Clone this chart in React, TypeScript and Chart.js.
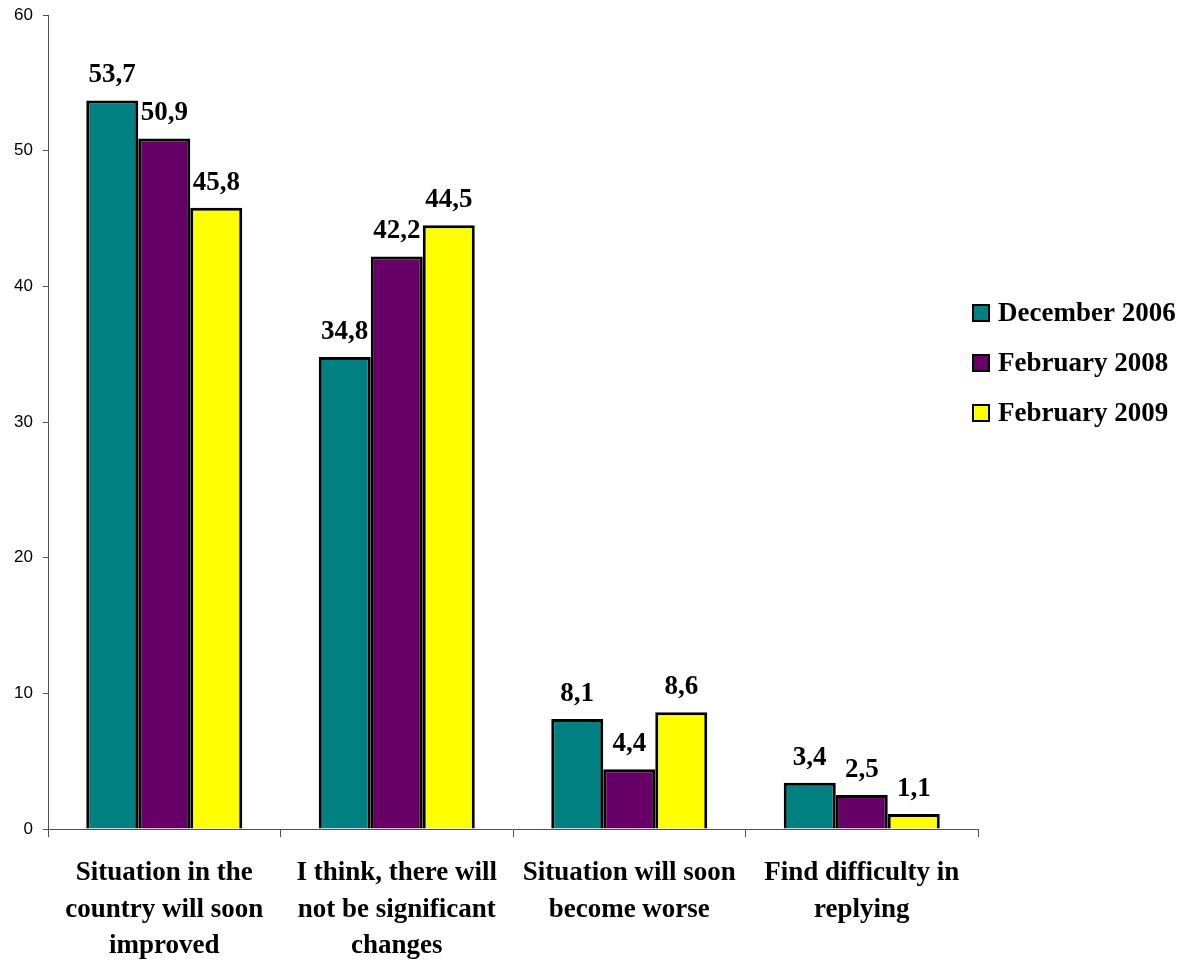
import React, { useEffect, useRef } from "react";
import { Chart, registerables } from "chart.js";

Chart.register(...registerables);

const categories: string[][] = [
  ["Situation in the", "country will soon", "improved"],
  ["I think, there will", "not be significant", "changes"],
  ["Situation will soon", "become worse"],
  ["Find difficulty in", "replying"],
];
const seriesNames = ["December 2006", "February 2008", "February 2009"];
const dec2006 = [53.7, 34.8, 8.1, 3.4];
const feb2008 = [50.9, 42.2, 4.4, 2.5];
const feb2009 = [45.8, 44.5, 8.6, 1.1];
const colors = ["#008080", "#660066", "#FFFF00"];
const yTicks = [0, 10, 20, 30, 40, 50, 60];

const SERIF = "'Liberation Serif', 'Times New Roman', serif";
const SANS = "'Liberation Sans', Arial, sans-serif";
const AXIS = "#505050";

const valueLabels = {
  id: "valueLabels",
  afterDatasetsDraw(chart: any) {
    const ctx = chart.ctx;
    ctx.save();
    ctx.font = `bold 27px ${SERIF}`;
    ctx.fillStyle = "#000";
    ctx.textAlign = "center";
    ctx.textBaseline = "alphabetic";
    chart.data.datasets.forEach((ds: any, i: number) => {
      const meta = chart.getDatasetMeta(i);
      meta.data.forEach((el: any, j: number) => {
        const v = ds.data[j] as number;
        ctx.fillText(v.toFixed(1).replace(".", ","), el.x, el.y - 18);
      });
    });
    ctx.restore();
  },
};

const sideLegend = {
  id: "sideLegend",
  afterDraw(chart: any) {
    const ctx = chart.ctx;
    const x0 = chart.chartArea.right - 5;
    const yc = [313, 363, 413];
    ctx.save();
    ctx.font = `bold 27px ${SERIF}`;
    ctx.textBaseline = "middle";
    ctx.textAlign = "left";
    chart.data.datasets.forEach((ds: any, i: number) => {
      const y = yc[i];
      ctx.fillStyle = ds.backgroundColor;
      ctx.fillRect(x0, y - 8, 16, 16);
      ctx.lineWidth = 2;
      ctx.strokeStyle = "#000";
      ctx.strokeRect(x0, y - 8, 16, 16);
      ctx.fillStyle = "#000";
      ctx.fillText(ds.label, x0 + 25, y + 1);
    });
    ctx.restore();
  },
};

export default function App() {
  const ref = useRef<HTMLCanvasElement>(null);
  useEffect(() => {
    document.body.style.margin = "0";
    const series = [dec2006, feb2008, feb2009];
    const chart = new Chart(ref.current!, {
      type: "bar",
      data: {
        labels: categories,
        datasets: series.map((d, i) => ({
          label: seriesNames[i],
          data: d,
          backgroundColor: colors[i],
          borderColor: "#000",
          borderWidth: 3,
          barPercentage: 1,
          categoryPercentage: 0.671,
        })),
      },
      options: {
        animation: false,
        responsive: true,
        maintainAspectRatio: false,
        layout: { padding: { top: 15, right: 215, left: 0, bottom: 0 } },
        plugins: {
          legend: { display: false },
          tooltip: { enabled: false },
        },
        scales: {
          x: {
            grid: {
              offset: true,
              drawOnChartArea: false,
              tickLength: 8,
              color: AXIS,
              tickColor: AXIS,
            },
            border: { color: AXIS, width: 1 },
            ticks: {
              color: "#000",
              padding: 18,
              maxRotation: 0,
              autoSkip: false,
              font: { family: SERIF, size: 27, weight: "bold", lineHeight: 1.35 },
            },
            afterFit: (s: any) => {
              s.height = 133;
              s.paddingLeft = 0;
              s.paddingRight = 0;
            },
          },
          y: {
            min: 0,
            max: 60,
            afterBuildTicks: (s: any) => {
              s.ticks = yTicks.map((v) => ({ value: v }));
            },
            grid: {
              drawOnChartArea: false,
              tickLength: 5,
              tickColor: AXIS,
            },
            border: { color: AXIS, width: 1 },
            ticks: {
              color: "#000",
              padding: 10,
              font: { family: SANS, size: 17 },
            },
            afterFit: (s: any) => {
              s.width = 48;
              s.paddingTop = 0;
              s.paddingBottom = 0;
            },
          },
        },
      },
      plugins: [valueLabels, sideLegend],
    });
    return () => chart.destroy();
  }, []);
  return (
    <div style={{ width: 1193, height: 962, position: "relative" }}>
      <canvas ref={ref} />
    </div>
  );
}
